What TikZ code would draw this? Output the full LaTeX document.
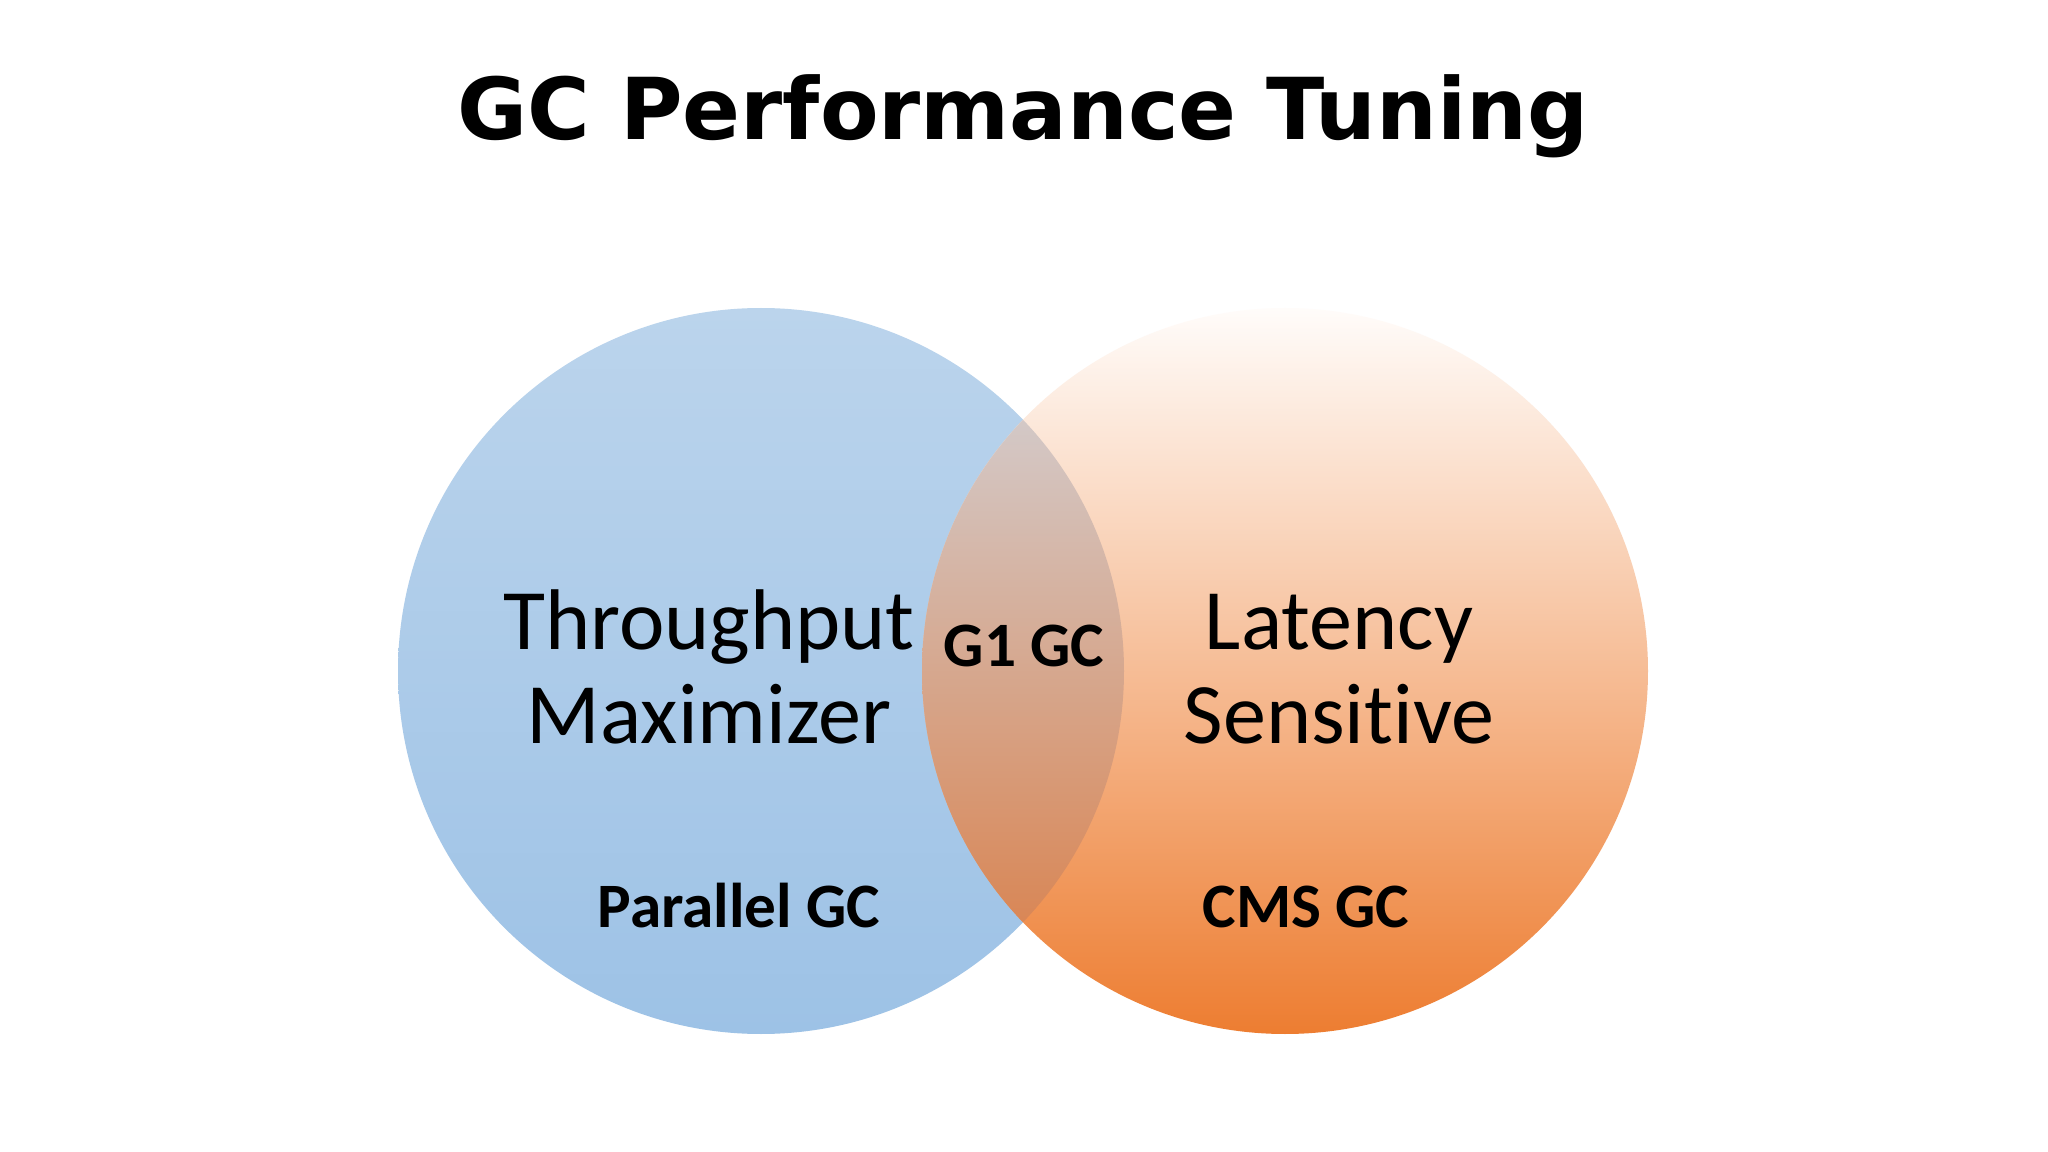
\documentclass[tikz,border=0pt]{standalone}
\usepackage{fontspec}
\setmainfont{Carlito}[Ligatures=NoCommon]
\newfontfamily\titlefont{DejaVu Sans}
\usetikzlibrary{positioning}
\definecolor{tp-top}{RGB}{187,212,236}
\definecolor{tp-mid}{RGB}{172,203,233}
\definecolor{tp-bot}{RGB}{157,194,230}
\definecolor{lat-top}{RGB}{255,252,250}
\definecolor{lat-mid}{RGB}{245,197,162}
\definecolor{lat-bot}{RGB}{237,125,49}
\definecolor{gone-top}{RGB}{210,215,224}
\definecolor{gone-mid}{RGB}{205,168,145}
\definecolor{gone-bot}{RGB}{218,120,61}

\begin{document}
\begin{tikzpicture}[
  set/.style={circle, minimum size=7.26cm, inner sep=0pt},
  big/.style={font=\fontsize{24.5}{27}\selectfont, align=center, anchor=base},
  tag/.style={font=\fontsize{18}{20}\selectfont\bfseries, anchor=base},
]
\useasboundingbox (0,0) rectangle (20.48,-11.52);
\fill[white] (0,0) rectangle (20.48,-11.52);

\node[font=\titlefont\fontsize{24.3}{28}\selectfont\bfseries, anchor=base]
  (title) at (10.23,-1.40) {GC Performance Tuning};

% the two sets
\node[set, top color=tp-top, middle color=tp-mid, bottom color=tp-bot]
  (tp) at (7.61,-6.71) {};
\node[set, top color=lat-top, middle color=lat-mid, bottom color=lat-bot]
  (lat) at (12.85,-6.71) {};

% overlap
\begin{scope}
  \clip (tp.center) circle (3.63);
  \shade[top color=gone-top, middle color=gone-mid, bottom color=gone-bot]
    (lat.center) circle (3.63);
\end{scope}

\node[big] (tpl)  at (7.09,-7.44)  {Throughput\\Maximizer};
\node[big] (latl) at (13.39,-7.44) {Latency\\Sensitive};
\node[tag] (g1)   at (10.24,-6.66) {G1 GC};
\node[tag] (par)  at (7.39,-9.27)  {Parallel GC};
\node[tag] (cms)  at (13.06,-9.27) {CMS GC};
\end{tikzpicture}
\end{document}
